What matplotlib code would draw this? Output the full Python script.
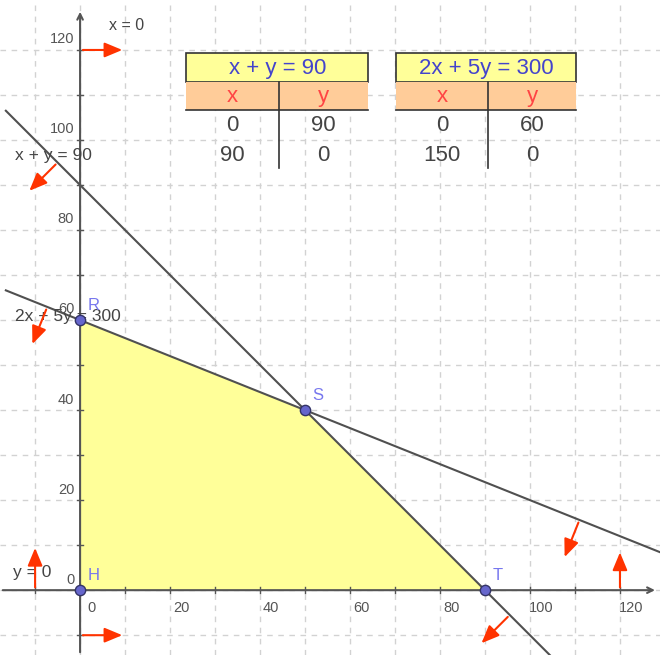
import numpy as np
import matplotlib
matplotlib.use("Agg")
import matplotlib.pyplot as plt
from matplotlib.patches import Polygon, Rectangle

plt.rcParams['font.family'] = ['Liberation Sans', 'DejaVu Sans']

# constraint lines a*x + b*y = c
lines = [(1, 1, 90), (2, 5, 300)]
line_labels = ["x + y = 90", "2x + 5y = 300"]
# feasible region vertices
vert_names = ["H", "R", "S", "T"]
vert_x = [0, 0, 50, 90]
vert_y = [0, 60, 40, 0]
# value tables
table_titles = ["x + y = 90", "2x + 5y = 300"]
table_x = [[0, 90], [0, 150]]
table_y = [[90, 0], [60, 0]]
ticks = [0, 20, 40, 60, 80, 100, 120]

xmin, xmax = -17.8, 128.9
ymin, ymax = -14.4, 131.1

fig = plt.figure(figsize=(6.6, 6.55), dpi=100)
ax = fig.add_axes([0, 0, 1, 1])
ax.set_xlim(xmin, xmax)
ax.set_ylim(ymin, ymax)
ax.axis("off")

# grid
for g in range(-10, 130, 10):
    ax.axvline(g, color="#d2d2d2", lw=1, ls=(0, (4, 4)), zorder=0)
    ax.axhline(g, color="#d2d2d2", lw=1, ls=(0, (4, 4)), zorder=0)

# feasible region
ax.add_patch(Polygon(list(zip(vert_x, vert_y)), closed=True, fc="#ffff99",
                     ec="none", zorder=1))

# axes with arrows
axc = "#555555"
ax.annotate("", xy=(xmax - 0.5, 0), xytext=(xmin, 0),
            arrowprops=dict(arrowstyle="->", color=axc, lw=1.5), zorder=3)
ax.annotate("", xy=(0, ymax - 2.0), xytext=(0, ymin),
            arrowprops=dict(arrowstyle="->", color=axc, lw=1.5), zorder=3)
for t in range(-10, 130, 10):
    if t != 0:
        ax.plot([t, t], [-0.7, 0.7], color=axc, lw=1, zorder=3)
        ax.plot([-0.7, 0.7], [t, t], color=axc, lw=1, zorder=3)
for t in ticks:
    ax.text(t + 2.5, -2.5, str(t), fontsize=10.5, color="#555555",
            ha="center", va="top", zorder=4)
    ax.text(-1.3, t + 0.8, str(t), fontsize=10.5, color="#555555",
            ha="right", va="bottom", zorder=4)

# constraint lines
xs = np.array([-16.5, 128.9])
for a, b, c in lines:
    ax.plot(xs, (c - a * xs) / b, color="#505050", lw=1.5, zorder=2)

# red direction arrows
red = "#ff3300"
arr = dict(arrowstyle="-|>,head_length=0.6,head_width=0.25", color=red, lw=1.5,
           mutation_scale=18)

def red_arrow(x0, y0, dx, dy):
    ax.annotate("", xy=(x0 + dx, y0 + dy), xytext=(x0, y0), arrowprops=arr, zorder=5)

red_arrow(0, 120, 10, 0)
red_arrow(0, -10, 10, 0)
red_arrow(-10, 0, 0, 10)
red_arrow(120, 0, 0, 9)
for (a, b, c), pts in zip(lines, [[-5, 95.5], [-7.3, 111]]):
    n = np.array([a, b], float)
    n = n / np.linalg.norm(n)
    L = 9.5
    for px in pts:
        py = (c - a * px) / b
        red_arrow(px, py, -n[0] * L, -n[1] * L)

# line labels
ax.text(6.5, 125.5, "x = 0", fontsize=11.5, color="#444444", va="center")
ax.text(-14.5, 96.5, line_labels[0], fontsize=12.5, color="#444444", va="center")
ax.text(-14.5, 60.8, line_labels[1], fontsize=12.5, color="#444444", va="center")
ax.text(-14.8, 4, "y = 0", fontsize=12.5, color="#444444", va="center")

# vertices
ax.scatter(vert_x, vert_y, s=55, c="#6666cc", edgecolors="#333366", lw=1, zorder=6)
for n_, x, y in zip(vert_names, vert_x, vert_y):
    ax.text(x + 1.6, y + 2.2, n_, fontsize=12, color="#7777ee", zorder=6)

# value tables (figure coordinates)
def draw_table(x0, x1, title, xv, yv):
    w = x1 - x0
    xm = x0 + w * 0.51
    fig.patches.append(Rectangle((x0, 0.875), w, 0.044, transform=fig.transFigure,
                                 fc="#ffff99", ec="#333333", lw=1.2, zorder=7))
    fig.patches.append(Rectangle((x0, 0.832), w, 0.043, transform=fig.transFigure,
                                 fc="#ffcc99", ec="none", zorder=7))
    fig.lines.append(plt.Line2D([x0, x1], [0.832, 0.832], transform=fig.transFigure,
                                color="#333333", lw=1.2, zorder=8))
    fig.lines.append(plt.Line2D([xm, xm], [0.744, 0.875], transform=fig.transFigure,
                                color="#333333", lw=1.2, zorder=8))
    fig.text((x0 + x1) / 2, 0.896, title, fontsize=16, color="#4444cc",
             ha="center", va="center", zorder=9)
    cx1, cx2 = (x0 + xm) / 2, (xm + x1) / 2
    fig.text(cx1, 0.852, "x", fontsize=16, color="#ff4444", ha="center", va="center", zorder=9)
    fig.text(cx2, 0.852, "y", fontsize=16, color="#ff4444", ha="center", va="center", zorder=9)
    for i, yy in enumerate([0.809, 0.763]):
        fig.text(cx1, yy, str(xv[i]), fontsize=16, color="#444444", ha="center", va="center", zorder=9)
        fig.text(cx2, yy, str(yv[i]), fontsize=16, color="#444444", ha="center", va="center", zorder=9)

draw_table(0.282, 0.558, table_titles[0], table_x[0], table_y[0])
draw_table(0.600, 0.873, table_titles[1], table_x[1], table_y[1])

fig.savefig("out.png", dpi=100, facecolor="white")
